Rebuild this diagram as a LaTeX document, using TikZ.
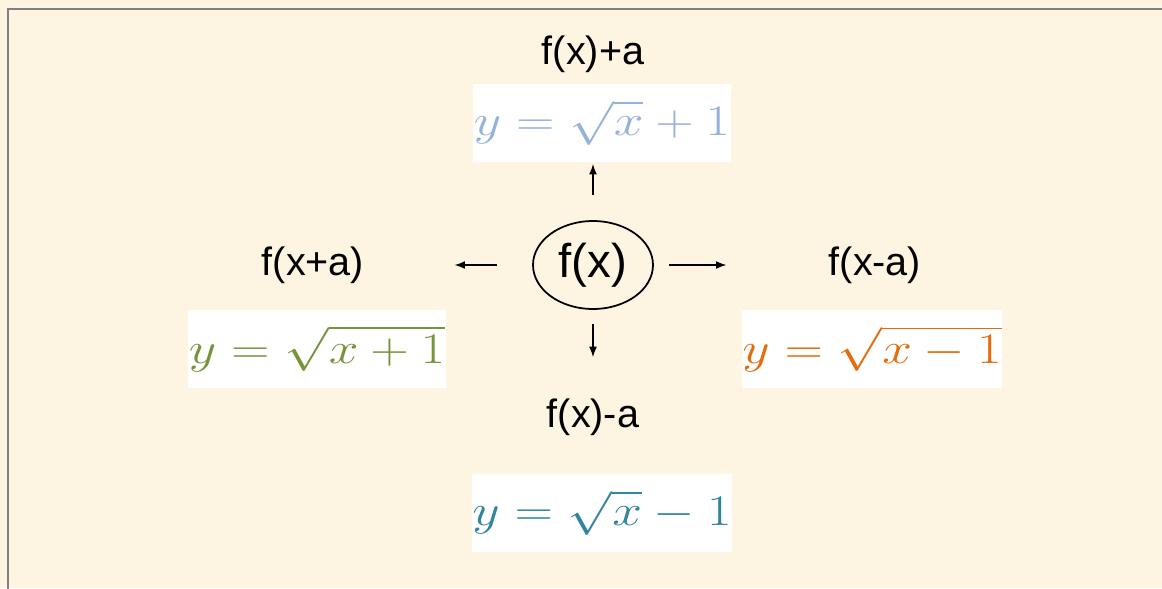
\documentclass[tikz,border=0pt]{standalone}
\usepackage{fontspec}
\setmainfont{Liberation Sans}
\usepackage{amsmath}
\usepackage{graphicx}
\usetikzlibrary{arrows.meta,positioning,shapes.geometric}
\definecolor{paper}{HTML}{FDF5E2}
\definecolor{frame}{HTML}{808080}
\definecolor{upblue}{HTML}{95B3D7}
\definecolor{leftgreen}{HTML}{77933C}
\definecolor{rightorange}{HTML}{E46C0A}
\definecolor{downteal}{HTML}{31859C}

\begin{document}
\begin{tikzpicture}[
  x=0.02cm, y=-0.02cm,
  lbl/.style={inner sep=0pt, font=\fontsize{22.5}{26}\selectfont},
  eqbox/.style={fill=white, inner sep=0pt, minimum width=5.16cm, minimum height=1.58cm, font=\fontsize{24}{28}\selectfont},
  fxnode/.style={draw, ellipse, line width=1pt, inner sep=0pt, minimum width=2.4cm, minimum height=1.76cm, font=\fontsize{27}{32}\selectfont},
  arrow/.style={-{Latex[length=6pt,width=4.5pt]}, line width=0.9pt}
]
\useasboundingbox (0,0) rectangle (1162,588);
\clip (0,0) rectangle (1162,588);
\fill[paper] (0,0) rectangle (1162,588);
\draw[frame, line width=1.5pt] (8,9) rectangle (1180,610);

% centre
\node[fxnode] (fx) at (593,265) {f(x)};

% four shifts
\node[lbl] (lblUp) at (593,54) {f(x)+a};
\node[eqbox] (eqUp) at (602,123) {\color{upblue}\scalebox{1.22}[1]{$y=\sqrt{x}+1$}};
\node[lbl] (lblLeft) at (313,265) {f(x+a)};
\node[eqbox] (eqLeft) at (317,349) {\color{leftgreen}\scalebox{1.22}[1]{$y=\sqrt{x+1}$}};
\node[lbl] (lblRight) at (875,265) {f(x-a)};
\node[eqbox] (eqRight) at (872,349) {\color{rightorange}\scalebox{1.22}[1]{$y=\sqrt{x-1}$}};
\node[lbl] (lblDown) at (593,417) {f(x)-a};
\node[eqbox] (eqDown) at (602,513) {\color{downteal}\scalebox{1.22}[1]{$y=\sqrt{x}-1$}};

\coordinate (upEnd) at (fx.north |- eqUp.south);
\foreach \b/\s/\e in {upEnd/0.5cm/0.02cm, lblLeft/0.7cm/1.8cm, lblRight/0.3cm/2.04cm, lblDown/0.28cm/0.82cm}{\draw[arrow, shorten <=\s, shorten >=\e] (fx) -- (\b);}
\end{tikzpicture}
\end{document}
